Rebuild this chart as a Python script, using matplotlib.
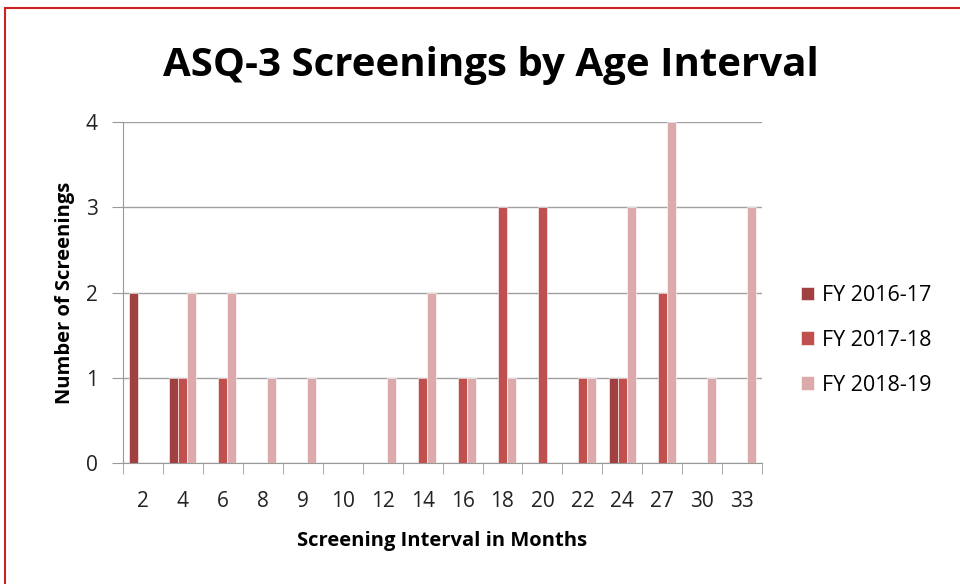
import numpy as np
import matplotlib
matplotlib.use("Agg")
import matplotlib.pyplot as plt
from matplotlib.patches import Rectangle

# data
months = ["2", "4", "6", "8", "9", "10", "12", "14", "16", "18", "20", "22", "24", "27", "30", "33"]
fy1617 = [2, 1, 0, 0, 0, 0, 0, 0, 0, 0, 0, 0, 1, 0, 0, 0]
fy1718 = [0, 1, 1, 0, 0, 0, 0, 1, 1, 3, 3, 1, 1, 2, 0, 0]
fy1819 = [0, 2, 2, 1, 1, 0, 1, 2, 1, 1, 0, 1, 3, 4, 1, 3]
series_names = ["FY 2016-17", "FY 2017-18", "FY 2018-19"]
colors = ["#A04040", "#C0504D", "#DCAAAA"]

plt.rcParams['font.family'] = ['Open Sans', 'DejaVu Sans']

fig = plt.figure(figsize=(9.6, 5.84), dpi=100)
ax = fig.add_axes([0.128, 0.207, 0.666, 0.584])

x = np.arange(len(months))
w = 0.225
for i, (vals, name, col) in enumerate(zip([fy1617, fy1718, fy1819], series_names, colors)):
    ax.bar(x + (i - 1) * w, vals, width=w, color=col, edgecolor="white",
           linewidth=0.4, label=name, zorder=3)

ax.set_xlim(-0.5, len(months) - 0.5)
ax.set_ylim(0, 4)
ax.set_yticks([0, 1, 2, 3, 4])
ax.set_xticks(x)
ax.set_xticklabels(months)
ax.set_xticks(np.arange(-0.5, len(months), 1), minor=True)
ax.tick_params(axis="x", which="major", length=0, labelsize=15, pad=20, colors="#222222")
ax.tick_params(axis="x", which="minor", length=8, color="#999999")
ax.tick_params(axis="y", length=8, labelsize=15, pad=10, colors="#222222")
ax.tick_params(axis="y", color="#999999")

ax.grid(axis="y", color="#A0A0A0", linewidth=1, zorder=0)
for s in ["top", "right"]:
    ax.spines[s].set_visible(False)
for s in ["left", "bottom"]:
    ax.spines[s].set_color("#999999")

ax.set_xlabel("Screening Interval in Months", fontsize=14.5, fontweight="bold", labelpad=14)
ax.set_ylabel("Number of Screenings", fontsize=14.5, fontweight="bold", labelpad=8)

fig.text(0.511, 0.888, "ASQ-3 Screenings by Age Interval", ha="center", va="center",
         fontsize=29, fontweight="bold")

ax.legend(loc="center left", bbox_to_anchor=(1.03, 0.36), frameon=False, fontsize=15.5,
          handlelength=0.6, handleheight=0.6, handletextpad=0.4, labelspacing=1.1)

fig.patches.append(Rectangle((5 / 960, -0.01), 1.0, 1 - 8 / 584 + 0.01, transform=fig.transFigure,
                             fill=False, edgecolor="#CC2222", linewidth=1.5))

fig.savefig("out.png", dpi=100)
